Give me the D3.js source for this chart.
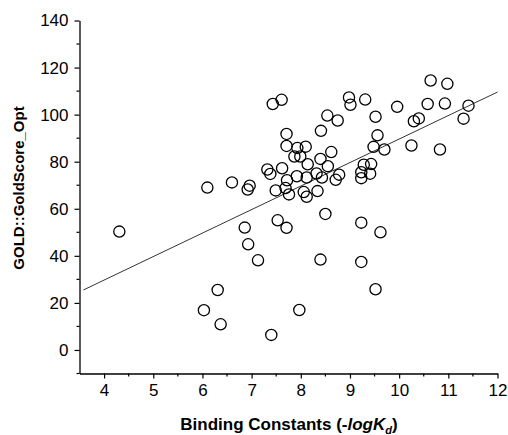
<!DOCTYPE html>
<meta charset="utf-8">
<script src="https://d3js.org/d3.v7.min.js"></script>
<style>
  body { margin: 0; background: #fff; }
  text { font-family: Arial, "Liberation Sans", sans-serif; }
</style>
<body>
<script>
// binding constant (-logKd) and GoldScore_Opt for each ligand
var bindX = [4.31, 6.03, 6.10, 6.31, 6.37, 6.60, 6.86, 6.93, 6.96, 6.92,
             7.13, 7.32, 7.38, 7.40, 7.43, 7.49, 7.53, 7.61, 7.62, 7.69,
             7.71, 7.71, 7.71, 7.72, 7.76, 7.87, 7.93, 7.92, 7.97, 7.99,
             8.06, 8.10, 8.12, 8.12, 8.14, 8.32, 8.34, 8.40, 8.41, 8.43,
             8.40, 8.50, 8.54, 8.55, 8.62, 8.71, 8.78, 8.75, 8.98, 9.01,
             9.23, 9.23, 9.28, 9.41, 9.43, 9.23, 9.23, 9.31, 9.48, 9.52,
             9.52, 9.56, 9.62, 9.70, 9.96, 10.25, 10.30, 10.40, 10.58, 10.64,
             10.83, 10.93, 10.98, 11.31, 11.41];
var goldScore = [50.3, 16.9, 69.0, 25.5, 10.9, 71.2, 52.0, 44.9, 69.8, 68.2,
                 38.1, 76.7, 74.8, 6.4, 104.5, 67.8, 55.1, 106.3, 77.2, 68.8,
                 91.8, 86.7, 51.9, 72.1, 66.1, 82.2, 85.8, 73.8, 17.0, 82.2,
                 67.1, 86.4, 73.3, 65.1, 78.9, 75.0, 67.5, 81.2, 93.1, 73.3,
                 38.4, 57.8, 99.6, 78.1, 84.1, 72.3, 74.5, 97.5, 107.3, 104.2,
                 75.5, 73.0, 78.7, 74.9, 79.0, 54.1, 37.4, 106.4, 86.3, 99.1,
                 25.8, 91.2, 50.0, 85.2, 103.3, 86.9, 97.2, 98.4, 104.5, 114.5,
                 85.2, 104.7, 113.1, 98.3, 103.8];

// linear fit end points
var fitX = [3.58, 12];
var fitY = [25.5, 109.6];

var xTicks = [4, 5, 6, 7, 8, 9, 10, 11, 12];
var yTicks = [0, 20, 40, 60, 80, 100, 120, 140];

var W = 508, H = 435;
var svg = d3.select("body").append("svg")
    .attr("width", W).attr("height", H);

var x = d3.scaleLinear().domain([3.5, 12]).range([79.5, 497.5]);
var y = d3.scaleLinear().domain([-10, 140]).range([373.5, 20.5]);

// axes
var xAxis = svg.append("g")
    .attr("transform", "translate(0," + y(-10) + ")")
    .call(d3.axisBottom(x).tickValues(xTicks).tickFormat(d3.format("d"))
      .tickSize(5).tickSizeOuter(0).tickPadding(5));
var xMinor = d3.range(4.5, 12, 1);
xAxis.selectAll(".minor").data(xMinor).enter().append("line")
    .attr("class", "minor")
    .attr("x1", function(d) { return x(d); }).attr("x2", function(d) { return x(d); })
    .attr("y1", 0).attr("y2", 3)
    .attr("stroke", "#000").attr("stroke-width", 1.2);

var yAxis = svg.append("g")
    .attr("transform", "translate(" + x(3.5) + ",0)")
    .call(d3.axisLeft(y).tickValues(yTicks)
      .tickSize(5).tickSizeOuter(0).tickPadding(6));
var yMinor = [-10, 10, 30, 50, 70, 90, 110, 130];
yAxis.selectAll(".minor").data(yMinor).enter().append("line")
    .attr("class", "minor")
    .attr("y1", function(d) { return y(d); }).attr("y2", function(d) { return y(d); })
    .attr("x1", 0).attr("x2", -3)
    .attr("stroke", "#000").attr("stroke-width", 1.2);

svg.selectAll(".domain").attr("stroke", "#000").attr("stroke-width", 1.3);
svg.selectAll(".tick line").attr("stroke", "#000").attr("stroke-width", 1.2);
svg.selectAll(".tick text")
    .style("font-family", "Arial, 'Liberation Sans', sans-serif")
    .style("font-size", "17px").attr("fill", "#000");

// fit line
svg.append("line")
    .attr("x1", x(fitX[0])).attr("y1", y(fitY[0]))
    .attr("x2", x(fitX[1])).attr("y2", y(fitY[1]))
    .attr("stroke", "#000").attr("stroke-width", 0.8);

// points
svg.selectAll("circle.pt")
  .data(d3.range(bindX.length))
  .enter().append("circle")
    .attr("class", "pt")
    .attr("cx", function(i) { return x(bindX[i]); })
    .attr("cy", function(i) { return y(goldScore[i]); })
    .attr("r", 5.6)
    .attr("fill", "none")
    .attr("stroke", "#000")
    .attr("stroke-width", 1.3);

// axis titles
var xt = svg.append("text")
    .attr("x", 289).attr("y", 430)
    .attr("text-anchor", "middle")
    .style("font-size", "17px").style("font-weight", "bold");
xt.append("tspan").text("Binding Constants (-");
xt.append("tspan").style("font-style", "italic").text("logK");
xt.append("tspan").style("font-style", "italic").style("font-size", "11px")
    .attr("dy", 4).text("d");
xt.append("tspan").attr("dy", -4).text(")");

svg.append("text")
    .attr("transform", "translate(24,188) rotate(-90)")
    .attr("text-anchor", "middle")
    .style("font-size", "15px").style("font-weight", "bold")
    .text("GOLD::GoldScore_Opt");
</script>
</body>
